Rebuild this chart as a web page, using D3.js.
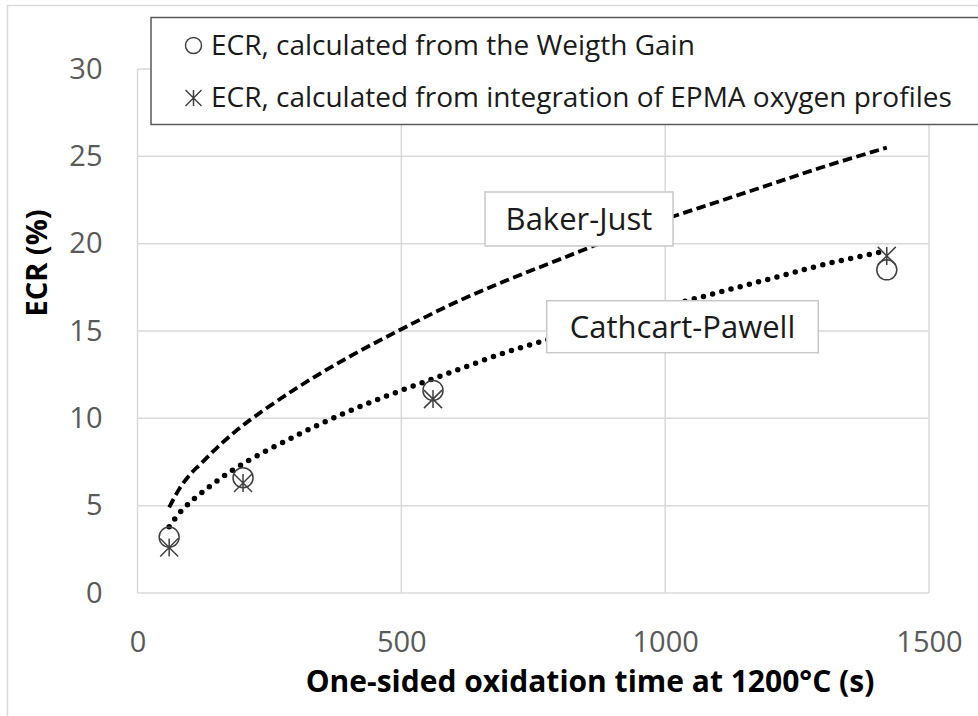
<!DOCTYPE html>
<html>
<head>
<meta charset="utf-8">
<script src="https://cdn.jsdelivr.net/npm/d3@7"></script>
<style>
  body { margin: 0; background: #fff; }
  svg { display: block; font-family: 'Open Sans', sans-serif; }
</style>
</head>
<body>
<svg id="chart" width="978" height="716"></svg>
<script>
// measured points
let weightGainTime = [60, 200, 560, 1420]
let weightGainEcr = [3.2, 6.6, 11.6, 18.5]
let epmaTime = [60, 200, 560, 1420]
let epmaEcr = [2.6, 6.3, 11.1, 19.3]

// correlation curves
let bakerJust = [[60, 4.9], [80, 6.0], [100, 6.8], [120, 7.4], [150, 8.3], [200, 9.6],
  [300, 11.7], [400, 13.5], [500, 15.1], [600, 16.6], [700, 17.9], [800, 19.1],
  [900, 20.3], [1000, 21.4], [1100, 22.4], [1200, 23.4], [1300, 24.4], [1420, 25.5]]
let cathcartPawell = [[60, 3.8], [80, 4.6], [100, 5.2], [120, 5.7], [150, 6.4], [200, 7.4],
  [300, 9.0], [400, 10.4], [500, 11.6], [600, 12.7], [700, 13.8], [800, 14.7],
  [900, 15.6], [1000, 16.4], [1100, 17.2], [1200, 18.0], [1300, 18.8], [1420, 19.6]]

let xTicks = [0, 500, 1000, 1500]
let yTicks = [0, 5, 10, 15, 20, 25, 30]
let legendLabels = ['ECR, calculated from the Weigth Gain',
  'ECR, calculated from integration of EPMA oxygen profiles']

let svg = d3.select('#chart')
let plot = {left: 137.5, right: 929, top: 69, bottom: 593}

let x = d3.scaleLinear().domain([0, 1500]).range([plot.left, plot.right])
let y = d3.scaleLinear().domain([0, 30]).range([plot.bottom, plot.top])

// outer chart border
svg.append('rect')
    .attr('x', 7.5).attr('y', 5.5)
    .attr('width', 1000).attr('height', 800)
    .attr('fill', 'none')
    .attr('stroke', '#d9d9d9')
    .attr('stroke-width', 1.5)

// gridlines
svg.append('g').selectAll('line')
    .data(yTicks)
  .enter().append('line')
    .attr('x1', plot.left).attr('x2', plot.right)
    .attr('y1', d => y(d)).attr('y2', d => y(d))
    .attr('stroke', '#d9d9d9')
    .attr('stroke-width', 1.5)

svg.append('g').selectAll('line')
    .data(xTicks)
  .enter().append('line')
    .attr('x1', d => x(d)).attr('x2', d => x(d))
    .attr('y1', plot.top).attr('y2', plot.bottom)
    .attr('stroke', '#d9d9d9')
    .attr('stroke-width', 1.5)

let xAxis = svg.append('g')
    .attr('transform', 'translate(0,' + plot.bottom + ')')
    .call(d3.axisBottom(x).tickValues(xTicks).tickFormat(d3.format('d')).tickSize(0).tickPadding(38))
xAxis.select('.domain').remove()
xAxis.selectAll('text')
    .style('font-family', "'Open Sans', sans-serif")
    .style('font-size', '29px')
    .attr('fill', '#595959')

let yAxis = svg.append('g')
    .attr('transform', 'translate(' + plot.left + ',0)')
    .call(d3.axisLeft(y).tickValues(yTicks).tickSize(0).tickPadding(35))
yAxis.select('.domain').remove()
yAxis.selectAll('text')
    .style('font-family', "'Open Sans', sans-serif")
    .style('font-size', '29px')
    .attr('fill', '#595959')

// axis titles
svg.append('text')
    .attr('x', 590).attr('y', 692)
    .attr('text-anchor', 'middle')
    .style('font-size', '30px')
    .style('font-weight', 'bold')
    .text('One-sided oxidation time at 1200°C (s)')

svg.append('text')
    .attr('transform', 'translate(47,263) rotate(-90)')
    .attr('text-anchor', 'middle')
    .style('font-size', '29px')
    .style('font-weight', 'bold')
    .text('ECR (%)')

// curves
let line = d3.line()
    .x(d => x(d[0]))
    .y(d => y(d[1]))
    .curve(d3.curveCatmullRom)

svg.append('path')
    .datum(bakerJust)
    .attr('d', line)
    .attr('fill', 'none')
    .attr('stroke', '#000')
    .attr('stroke-width', 3.8)
    .attr('stroke-dasharray', '9.5 4.5')

svg.append('path')
    .datum(cathcartPawell)
    .attr('d', line)
    .attr('fill', 'none')
    .attr('stroke', '#000')
    .attr('stroke-width', 5.5)
    .attr('stroke-linecap', 'round')
    .attr('stroke-dasharray', '0 9.5')

// curve labels
function boxLabel(text, cx, cy, w, h) {
  svg.append('rect')
      .attr('x', cx - w / 2).attr('y', cy - h / 2)
      .attr('width', w).attr('height', h)
      .attr('fill', '#fff')
      .attr('stroke', '#c8c8c8')
      .attr('stroke-width', 1.5)
  svg.append('text')
      .attr('x', cx).attr('y', cy + 11)
      .attr('text-anchor', 'middle')
      .style('font-size', '31px')
      .attr('fill', '#1a1a1a')
      .text(text)
}
boxLabel('Baker-Just', 579, 219, 188, 54)
boxLabel('Cathcart-Pawell', 682.5, 326.7, 271.6, 52)

// markers
function star(sel, h) {
  sel.append('path')
      .attr('d', 'M' + (-h) + ',' + (-h) + 'L' + h + ',' + h +
        'M' + (-h) + ',' + h + 'L' + h + ',' + (-h) +
        'M0,' + (-h) + 'L0,' + h)
      .attr('fill', 'none')
      .attr('stroke', '#404040')
      .attr('stroke-width', 1.5)
}

svg.append('g').selectAll('circle')
    .data(weightGainTime)
  .enter().append('circle')
    .attr('cx', d => x(d))
    .attr('cy', (d, i) => y(weightGainEcr[i]))
    .attr('r', 10)
    .attr('fill', 'none')
    .attr('stroke', '#404040')
    .attr('stroke-width', 1.5)

svg.append('g').selectAll('g')
    .data(epmaTime)
  .enter().append('g')
    .attr('transform', (d, i) => 'translate(' + x(d) + ',' + y(epmaEcr[i]) + ')')
    .each(function() { star(d3.select(this), 9) })

// legend
let legend = svg.append('g')
legend.append('rect')
    .attr('x', 151).attr('y', 17.5)
    .attr('width', 840).attr('height', 107)
    .attr('fill', '#fff')
    .attr('stroke', '#595959')
    .attr('stroke-width', 1.5)

legend.append('circle')
    .attr('cx', 193.5).attr('cy', 45.5)
    .attr('r', 8)
    .attr('fill', 'none')
    .attr('stroke', '#404040')
    .attr('stroke-width', 1.5)

let ls = legend.append('g').attr('transform', 'translate(193.5,98)')
star(ls, 8)

legend.selectAll('text.lab')
    .data(legendLabels)
  .enter().append('text')
    .attr('class', 'lab')
    .attr('x', 211)
    .attr('y', (d, i) => 55 + i * 52)
    .style('font-size', '28px')
    .attr('fill', '#1a1a1a')
    .text(d => d)
</script>
</body>
</html>
